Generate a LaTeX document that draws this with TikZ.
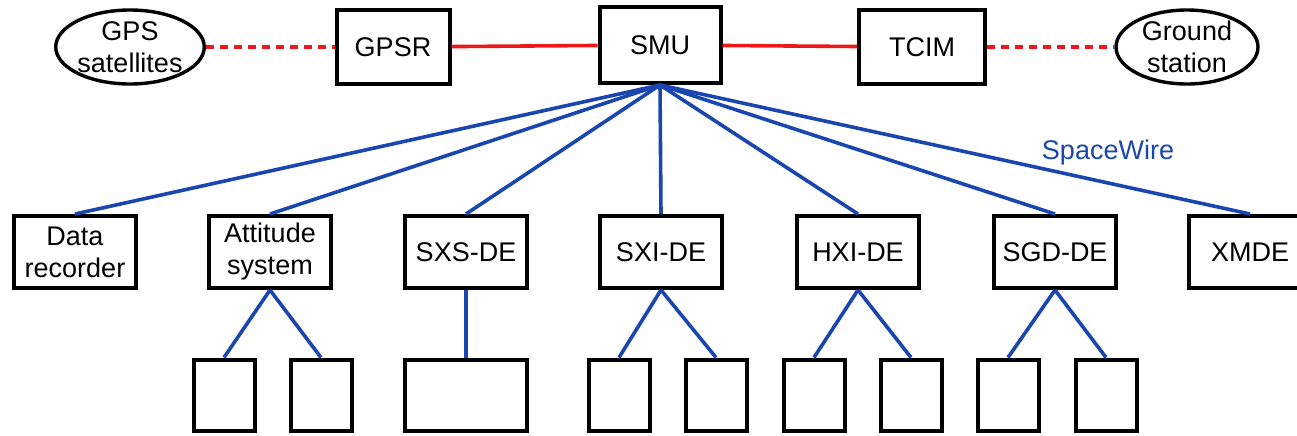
\documentclass[tikz,border=0pt]{standalone}
\usepackage{fontspec}
\setmainfont{Liberation Sans}
\usetikzlibrary{shapes.geometric}
\definecolor{wireblue}{RGB}{25,70,175}
\definecolor{linkred}{RGB}{235,25,25}

\begin{document}
\begin{tikzpicture} [
    x=0.5pt, y=-0.5pt,
    font=\fontsize{13.5}{16}\selectfont,
    block/.style = { rectangle, draw, line width=2pt, align=center,
                     minimum width=61pt, minimum height=36pt, inner sep=1pt },
    top/.style   = { block, minimum height=37pt },
    leaf/.style  = { rectangle, draw, line width=2pt,
                     minimum width=30.5pt, minimum height=35.5pt },
    cloud/.style = { ellipse, draw, line width=1.7pt, align=center,
                     minimum width=71pt, minimum height=37pt, inner sep=0pt },
    wire/.style  = { draw=wireblue, line width=1.8pt },
    link/.style  = { draw=linkred, line width=1.8pt },
    radio/.style = { link, dash pattern=on 4pt off 3pt },
  ]
  \useasboundingbox (0,0) rectangle (1297,435);
  % top row
  \node [cloud] (gps) at (130,47) {GPS\\satellites};
  \node [top, minimum width=56.5pt] (gpsr) at (393,47) {GPSR};
  \node [top, minimum width=60.5pt, minimum height=38pt] (smu) at (660,45) {SMU};
  \node [top, minimum width=63pt] (tcim) at (922,47) {TCIM};
  \node [cloud] (gnd) at (1187,47) {Ground\\station};
  % subsystems
  \node [block] (rec)  at (75,252)   {Data\\recorder};
  \node [block] (att)  at (270,252)  {Attitude\\system};
  \node [block] (sxs)  at (466,252)  {SXS-DE};
  \node [block] (sxi)  at (661,252)  {SXI-DE};
  \node [block] (hxi)  at (858,252)  {HXI-DE};
  \node [block] (sgd)  at (1055,252) {SGD-DE};
  \node [block] (xmde) at (1250,252) {XMDE};
  \node [text=wireblue] (spw) at (1108,153) {SpaceWire};
  % units below
  \node [leaf] (att1) at (224,395)  {};
  \node [leaf] (att2) at (321,395)  {};
  \node [leaf, minimum width=61pt] (sxs1) at (466,395) {};
  \node [leaf] (sxi1) at (619,395)  {};
  \node [leaf] (sxi2) at (716,395)  {};
  \node [leaf] (hxi1) at (814,395)  {};
  \node [leaf] (hxi2) at (911,395)  {};
  \node [leaf] (sgd1) at (1008,395) {};
  \node [leaf] (sgd2) at (1106,395) {};
  % connect all nodes defined above
  \path [radio] (gps)  -- (gpsr);
  \path [link]  (gpsr) -- (smu);
  \path [link]  (smu)  -- (tcim);
  \path [radio] (tcim) -- (gnd);
  \foreach \n in {rec,att,sxs,sxi,hxi,sgd,xmde}
    \path [wire] (smu.south) -- (\n.north);
  \foreach \p/\c in {att/att1,att/att2,sxs/sxs1,sxi/sxi1,sxi/sxi2,
                     hxi/hxi1,hxi/hxi2,sgd/sgd1,sgd/sgd2}
    \path [wire] (\p.south) -- (\c.north);
\end{tikzpicture}
\end{document}
